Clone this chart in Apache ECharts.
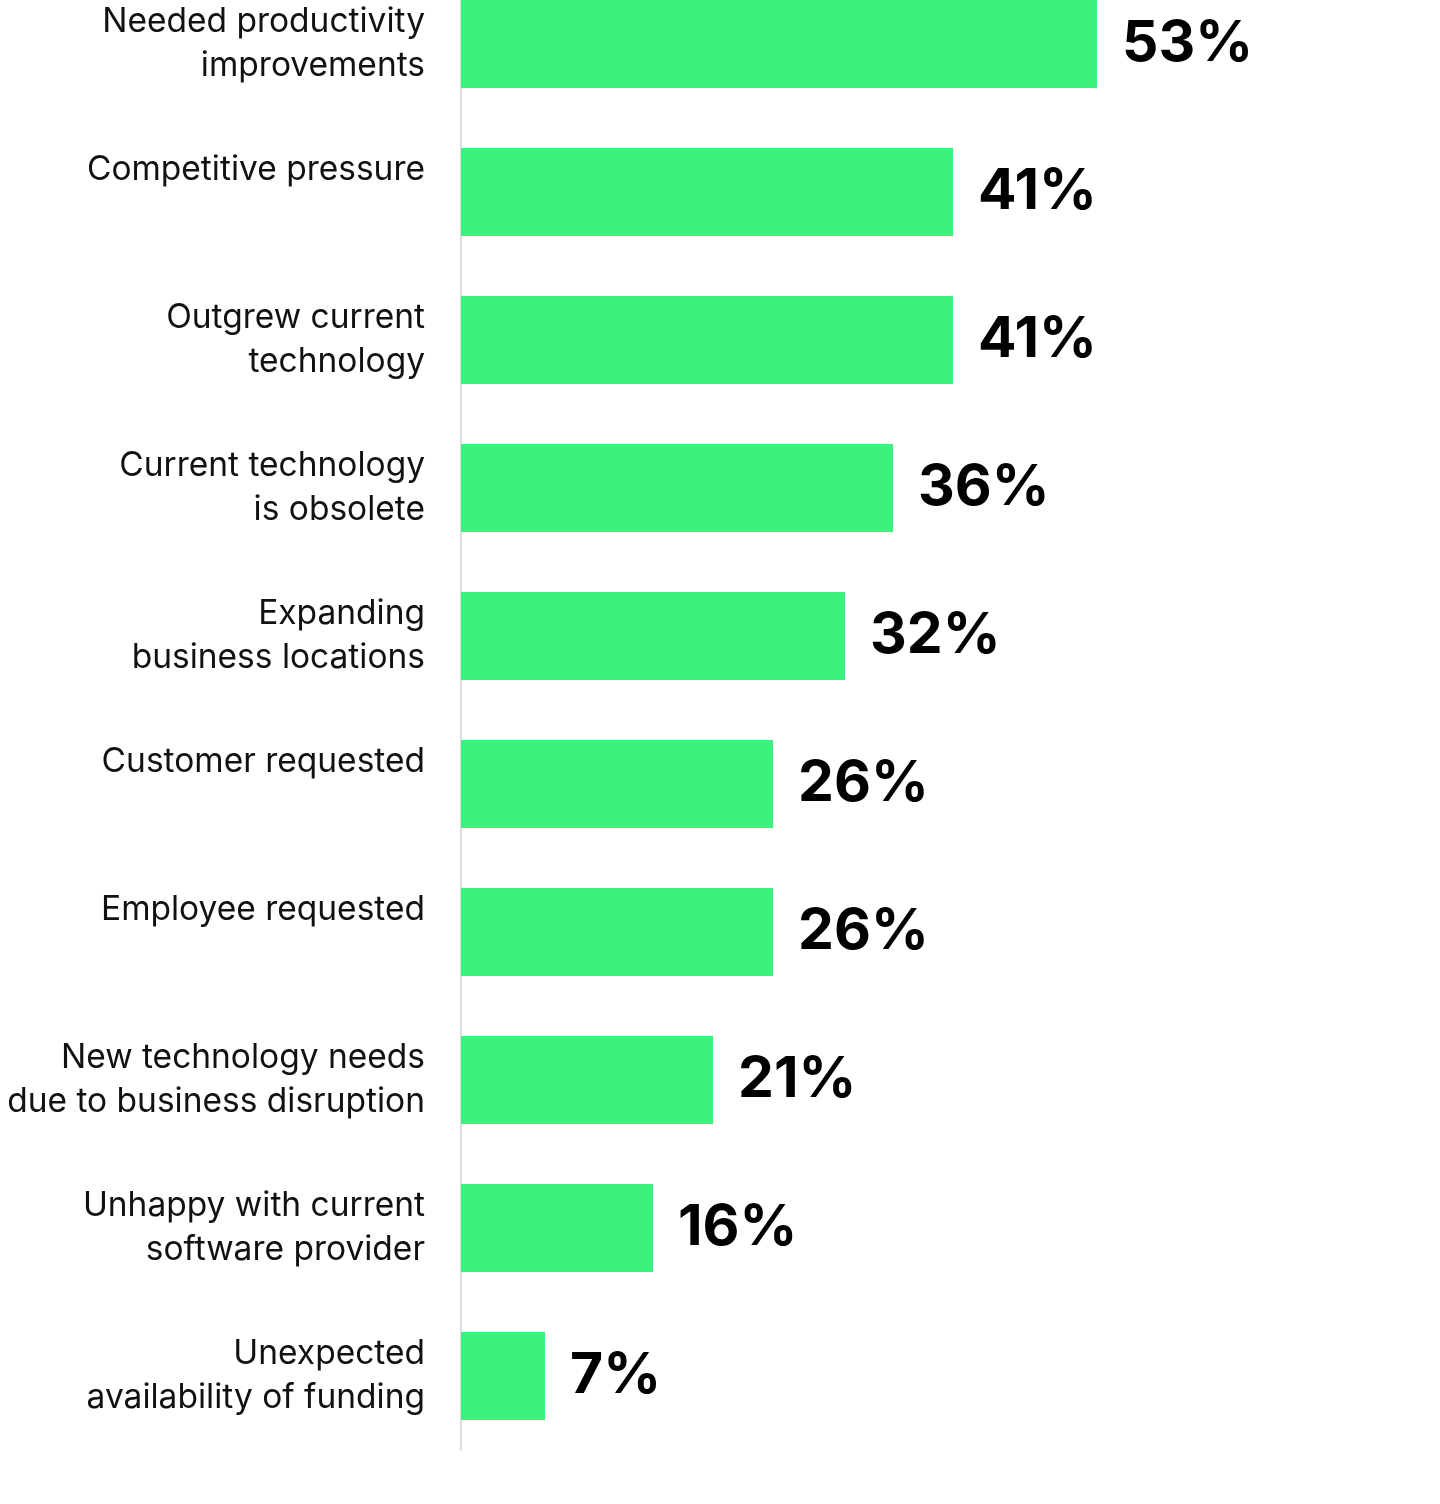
<!DOCTYPE html>
<html>
<head>
<meta charset="utf-8">
<script src="https://cdn.jsdelivr.net/npm/echarts@6/dist/echarts.min.js"></script>
<style>
html,body{margin:0;padding:0;background:#fff;overflow:hidden;width:1440px;height:1504px;}
#chart{position:absolute;left:0;top:-30px;width:1440px;height:1534px;}
</style>
</head>
<body>
<div id="chart"></div>
<script>
const categories = [
  "Needed productivity\nimprovements",
  "Competitive pressure",
  "Outgrew current\ntechnology",
  "Current technology\nis obsolete",
  "Expanding\nbusiness locations",
  "Customer requested",
  "Employee requested",
  "New technology needs\ndue to business disruption",
  "Unhappy with current\nsoftware provider",
  "Unexpected\navailability of funding"
];
const values = [53, 41, 41, 36, 32, 26, 26, 21, 16, 7];

const chart = echarts.init(document.getElementById('chart'), null, {renderer: 'canvas'});
chart.setOption({
  animation: false,
  backgroundColor: '#ffffff',
  grid: {left: 461, right: 19, top: 0, bottom: 54, containLabel: false},
  xAxis: {
    type: 'value', min: 0, max: 80, show: false
  },
  yAxis: {
    type: 'category',
    data: categories,
    inverse: true,
    axisLine: {show: true, lineStyle: {color: '#dddddd', width: 2}},
    axisTick: {show: false},
    splitLine: {show: false},
    axisLabel: {
      margin: 36,
      align: 'right',
      fontFamily: 'Inter, "Noto Sans", sans-serif',
      fontSize: 33.5,
      lineHeight: 44,
      color: '#111111',
      formatter: function (v) { return v.indexOf('\n') >= 0 ? v : v + '\n '; }
    }
  },
  series: [{
    type: 'bar',
    data: values,
    barWidth: 88,
    itemStyle: {color: '#3cf27c'},
    label: {
      show: true,
      position: 'right',
      distance: 25,
      formatter: '{c}%',
      fontFamily: 'Inter, "Noto Sans", sans-serif',
      fontWeight: 'bold',
      fontSize: 57,
      color: '#000000'
    }
  }]
});
</script>
</body>
</html>
